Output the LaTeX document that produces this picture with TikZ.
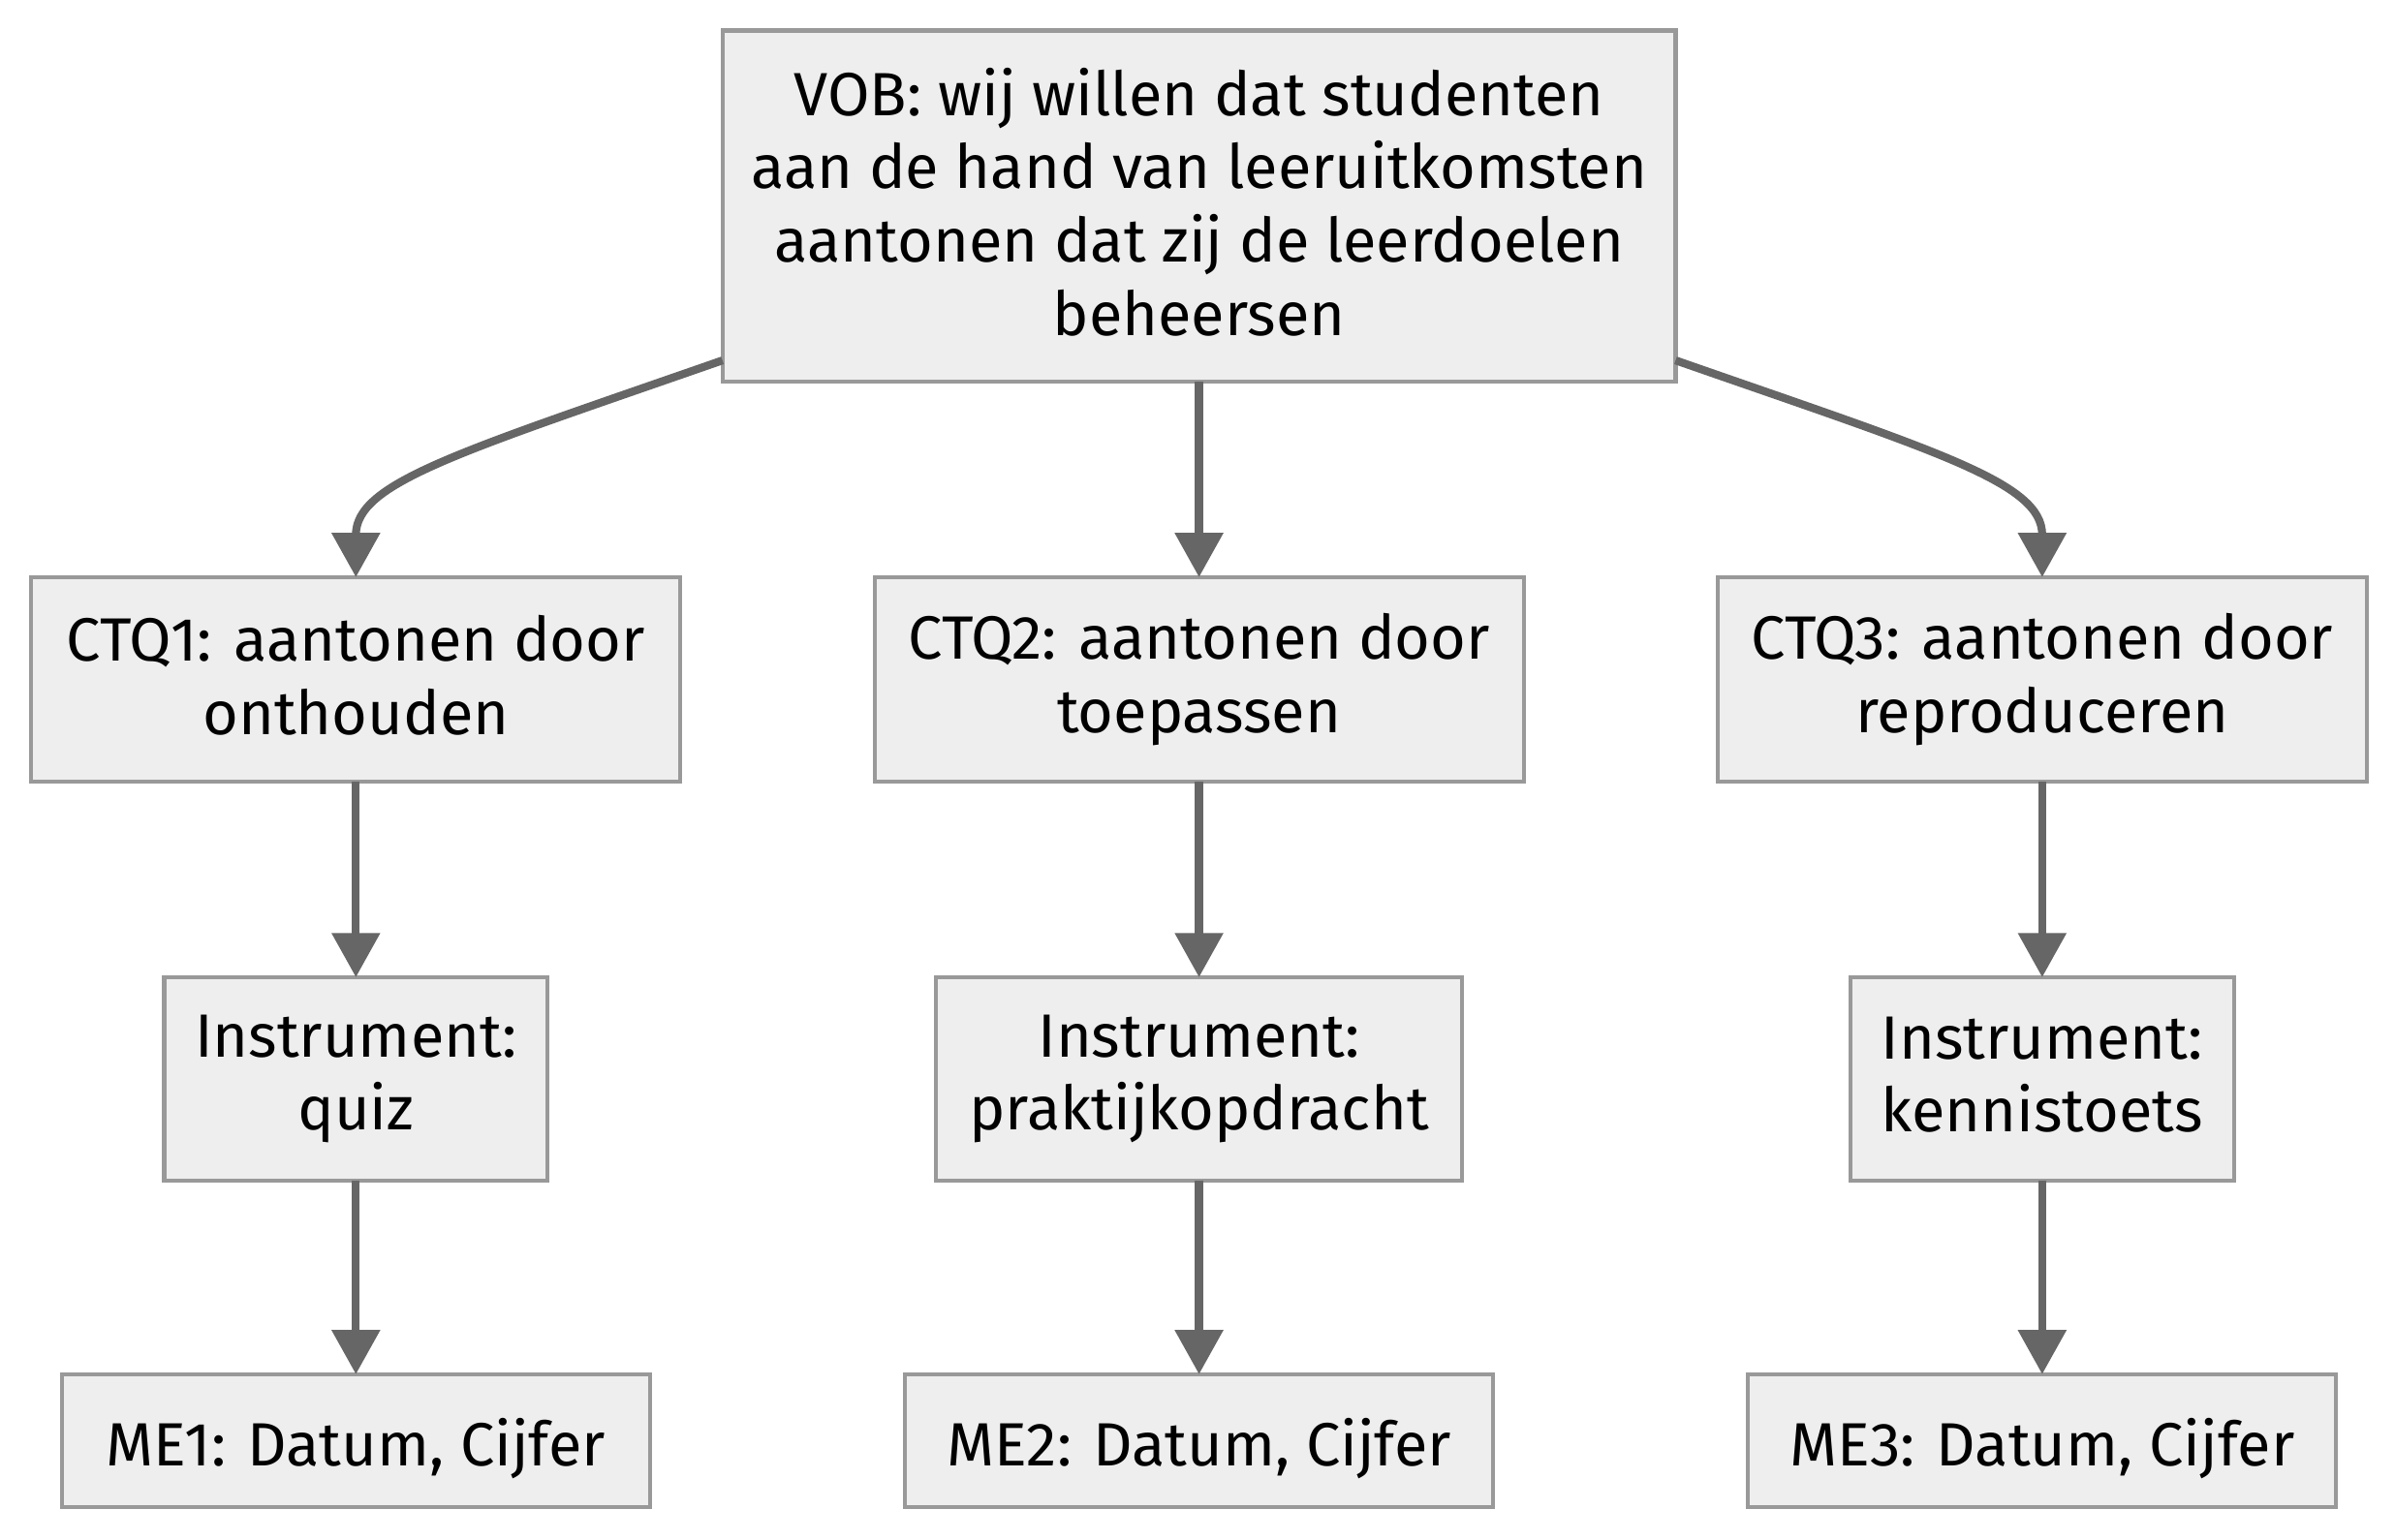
\documentclass[tikz,border=0pt]{standalone}
\usepackage{fontspec}
\setmainfont{Fira Sans}
\usetikzlibrary{shapes, arrows.meta, positioning}
\definecolor{boxfill}{HTML}{EEEEEE}
\definecolor{boxline}{HTML}{999999}
\definecolor{linkcol}{HTML}{666666}
\newcommand{\linestrut}{\rule[-3pt]{0pt}{24pt}}
\tikzstyle{block} = [draw=boxline, fill=boxfill, line width=1.3pt, rectangle, align=center, inner sep=0pt, outer sep=0pt, font=\fontsize{20}{24}\selectfont, execute at begin node=\linestrut, execute at end node=\linestrut]
\tikzstyle{goal} = [block, minimum width=312pt, minimum height=115pt]
\tikzstyle{ctq} = [block, minimum width=212.5pt, minimum height=67pt]
\tikzstyle{instr} = [block, minimum height=66.5pt]
\tikzstyle{meas} = [block, minimum width=192.5pt, minimum height=43.5pt]
\tikzstyle{link} = [draw=linkcol, line width=2.6pt]

\begin{document}
\begin{tikzpicture}[x=1pt, y=-1pt, node distance=64pt, >={Triangle[length=14.5pt, width=15.3pt]}]
\useasboundingbox (0,0) rectangle (784,504);
\node [goal] (vob) at (392.5,67.5) {VOB: wij willen dat studenten\\aan de hand van leeruitkomsten\\aantonen dat zij de leerdoelen\\beheersen};
\node [ctq, below=of vob] (ctq2) {CTQ2: aantonen door\\toepassen};
\node [ctq, left=63.5pt of ctq2] (ctq1) {CTQ1: aantonen door\\onthouden};
\node [ctq, right=63.5pt of ctq2] (ctq3) {CTQ3: aantonen door\\reproduceren};
\node [instr, minimum width=125.5pt, below=of ctq1] (instr1) {Instrument:\\quiz};
\node [instr, minimum width=172pt, below=of ctq2] (instr2) {Instrument:\\praktijkopdracht};
\node [instr, minimum width=125.5pt, below=of ctq3] (instr3) {Instrument:\\kennistoets};
\node [meas, below=63.5pt of instr1] (me1) {ME1: Datum, Cijfer};
\node [meas, below=63.5pt of instr2] (me2) {ME2: Datum, Cijfer};
\node [meas, below=63.5pt of instr3] (me3) {ME3: Datum, Cijfer};

\draw [link, ->] ([yshift=7pt]vob.south west) .. controls +(-86,30) and +(0,-31) .. (ctq1.north);
\draw [link, ->] (vob) -- (ctq2);
\draw [link, ->] ([yshift=7pt]vob.south east) .. controls +(86,30) and +(0,-31) .. (ctq3.north);
\draw [link, ->] (ctq1) -- (instr1);
\draw [link, ->] (ctq2) -- (instr2);
\draw [link, ->] (ctq3) -- (instr3);
\draw [link, ->] (instr1) -- (me1);
\draw [link, ->] (instr2) -- (me2);
\draw [link, ->] (instr3) -- (me3);
\end{tikzpicture}
\end{document}
